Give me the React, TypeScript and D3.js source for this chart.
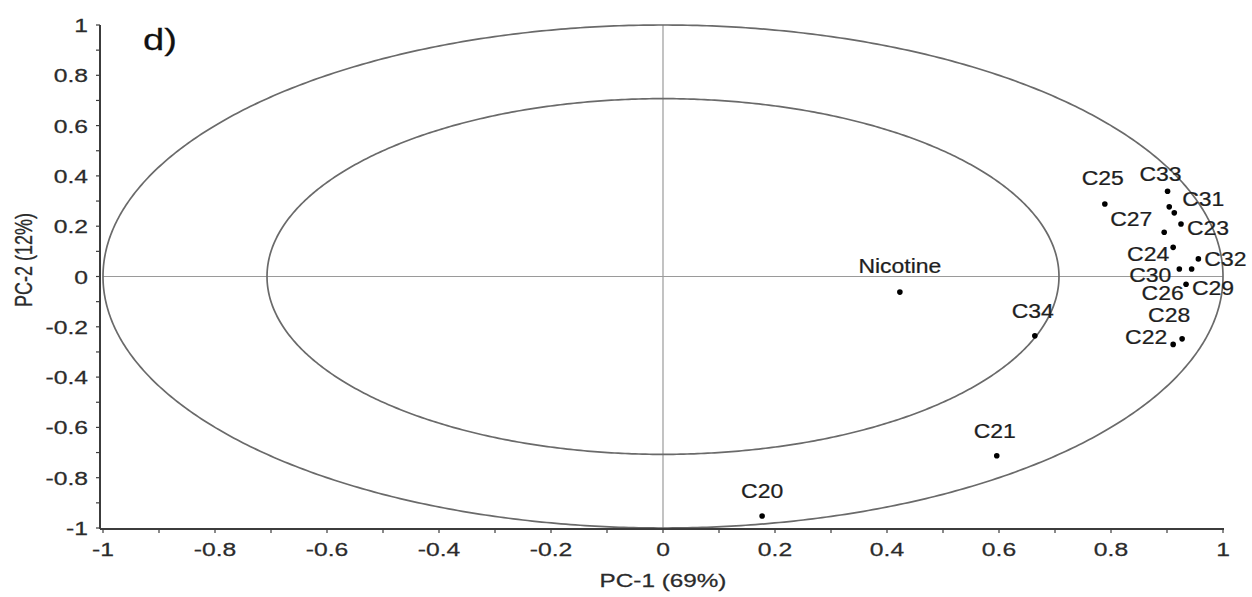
import React from 'react';
import * as d3 from 'd3';

// PCA correlation loadings (PC-1 vs PC-2)
const compounds = ['Nicotine', 'C34', 'C21', 'C20', 'C25', 'C33', '', 'C31', 'C23', 'C27', 'C24', 'C32', 'C30', 'C26', 'C29', 'C28', 'C22'];
const pc1 = [0.423, 0.664, 0.596, 0.177, 0.789, 0.901, 0.904, 0.913, 0.925, 0.895, 0.911, 0.956, 0.922, 0.944, 0.934, 0.927, 0.911];
const pc2 = [-0.062, -0.236, -0.713, -0.952, 0.288, 0.339, 0.277, 0.253, 0.209, 0.176, 0.116, 0.070, 0.030, 0.030, -0.031, -0.248, -0.270];

// correlation circles: 100% and 50% explained variance
const circleRadii = [1, Math.SQRT1_2];

const xTickLabels = ['-1', '-0.8', '-0.6', '-0.4', '-0.2', '0', '0.2', '0.4', '0.6', '0.8', '1'];
const yTickLabels = ['-1', '-0.8', '-0.6', '-0.4', '-0.2', '0', '0.2', '0.4', '0.6', '0.8', '1'];

const xTitle = 'PC-1 (69%)';
const yTitle = 'PC-2 (12%)';
const panelTag = 'd)';

// label placement (px from point: text centre, baseline)
const labelOffsets: Record<string, [number, number]> = {
  Nicotine: [0, -19], C34: [-2, -18], C21: [-2, -18], C20: [0, -18],
  C25: [-2, -19], C33: [-7, -10], C31: [29, -7], C23: [27, 11],
  C27: [-33, -6], C24: [-25, 14], C32: [27, 7], C30: [-29, 13],
  C26: [-29, 31], C29: [27, 11], C28: [-13, -17], C22: [-27, 0],
};

const W = 1252;
const H = 597;
const FONT = '"Liberation Sans", Arial, sans-serif';

// the source figure is stretched horizontally, so text is too
const SText = ({ x, y, sx = 1.3, size, anchor = 'middle', fill = '#2b2b2b', children }: any) => (
  <text
    transform={`translate(${x},${y}) scale(${sx},1)`}
    textAnchor={anchor}
    fontSize={size}
    fontFamily={FONT}
    fill={fill}
    stroke={fill}
    strokeWidth={0.25}
  >
    {children}
  </text>
);

export default function App() {
  const x = d3.scaleLinear().domain([-1, 1]).range([103, 1223]);
  const y = d3.scaleLinear().domain([-1, 1]).range([528, 25]);

  const majorTicks = d3.range(-1, 1.0001, 0.2);
  const minorTicks = d3.range(-1, 1.0001, 0.1);

  const axisX = x(-1) - 3;
  const axisY = y(-1) + 1;

  const ellipse = (r: number) =>
    d3.line<number>()
      .x(t => x(r * Math.cos(t)))
      .y(t => y(r * Math.sin(t)))
      .curve(d3.curveLinearClosed)(d3.range(0, 2 * Math.PI, Math.PI / 360));

  return (
    <svg width={W} height={H} style={{ position: 'absolute', left: 0, top: 0, background: '#fff' }}>
      {/* centre cross */}
      <line x1={x(-1)} x2={x(1)} y1={y(0)} y2={y(0)} stroke="#9a9a9a" strokeWidth={1.2} />
      <line x1={x(0)} x2={x(0)} y1={y(1)} y2={axisY} stroke="#9a9a9a" strokeWidth={1.2} />

      {circleRadii.map((r, i) => (
        <path key={i} d={ellipse(r) || ''} fill="none" stroke="#6a6a6a" strokeWidth={1.7} />
      ))}

      {/* axes */}
      <line x1={axisX} x2={axisX} y1={y(1)} y2={axisY} stroke="#3c3c3c" strokeWidth={2} />
      <line x1={axisX} x2={x(1) + 1} y1={axisY} y2={axisY} stroke="#3c3c3c" strokeWidth={2} />
      {minorTicks.map((t, i) => (
        <g key={i}>
          <line x1={axisX - 4} x2={axisX} y1={y(t)} y2={y(t)} stroke="#3c3c3c" strokeWidth={1.2} />
          <line x1={x(t)} x2={x(t)} y1={axisY} y2={axisY + 4} stroke="#3c3c3c" strokeWidth={1.2} />
        </g>
      ))}
      {majorTicks.map((t, i) => (
        <g key={i}>
          <SText x={88} y={y(t) + 7} size={19} anchor="end">{yTickLabels[i]}</SText>
          <SText x={x(t)} y={556} size={19}>{xTickLabels[i]}</SText>
        </g>
      ))}

      <SText x={x(0)} y={587} size={18} sx={1.35}>{xTitle}</SText>
      <text
        transform={`translate(32,260) scale(1.3,1) rotate(-90)`}
        textAnchor="middle"
        fontSize={18}
        fontFamily={FONT}
        fill="#2b2b2b"
        stroke="#2b2b2b"
        strokeWidth={0.25}
      >
        {yTitle}
      </text>

      <SText x={143} y={50} size={30} sx={1.27} anchor="start" fill="#111">{panelTag}</SText>

      {/* loadings */}
      {compounds.map((name, i) => {
        const px = x(pc1[i]);
        const py = y(pc2[i]);
        const off = labelOffsets[name];
        return (
          <g key={i}>
            <circle cx={px} cy={py} r={2.8} fill="#000" />
            {name && off && (
              <SText x={px + off[0]} y={py + off[1]} size={20.5} sx={1.12} fill="#1e1e1e">{name}</SText>
            )}
          </g>
        );
      })}
    </svg>
  );
}
